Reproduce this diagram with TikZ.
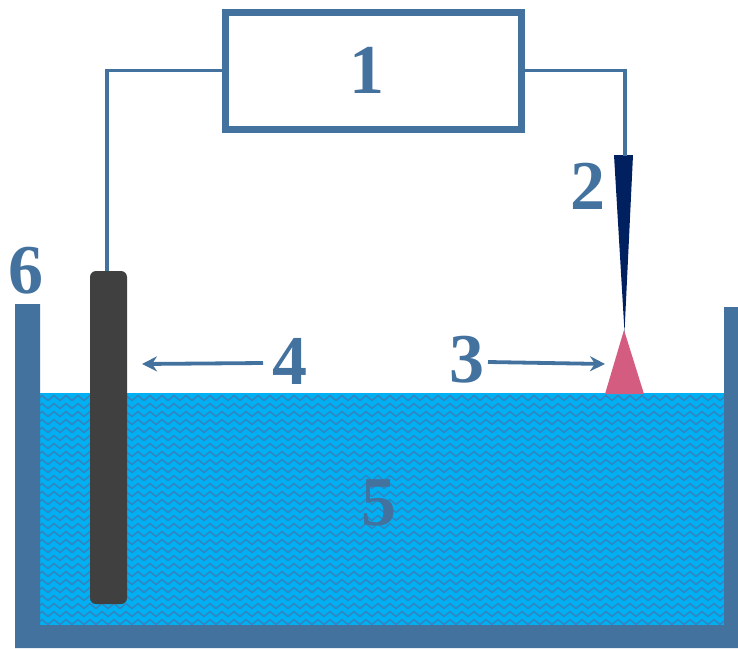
\documentclass[tikz,border=0pt]{standalone}
\usepackage{fontspec}
\setmainfont{Liberation Serif}
\usetikzlibrary{arrows.meta}
\definecolor{steel}{HTML}{44729F}
\definecolor{water}{HTML}{00B0F2}
\definecolor{wave}{HTML}{3583BE}
\definecolor{tipblue}{HTML}{002060}
\definecolor{pinkdrop}{HTML}{D35C80}
\definecolor{rod}{HTML}{404040}
\tikzset{
  num/.style={font=\bfseries\fontsize{70}{70}\selectfont,text=steel,inner sep=0pt},
  wire/.style={draw=steel,line width=3.6pt},
  pointer/.style={draw=steel,line width=3.8pt,-{Stealth[length=15pt,width=15pt]}},
  wall/.style={fill=steel,draw=none},
  wavelet/.style={draw=wave,line width=1.4pt,line join=miter}
}
\begin{document}
\begin{tikzpicture}[x=1pt,y=-1pt]
\useasboundingbox (0,0) rectangle (738,648);
% water
\fill[water] (40,393) rectangle (724,626);
\begin{scope}
\clip (40,393) rectangle (724,626);
\foreach \yy in {398,406,...,630}{
  \foreach \xx in {36,48,...,732}{
    \draw[wavelet] (\xx,\yy+2.5) -- (\xx+6,\yy-2.5) -- (\xx+12,\yy+2.5);
  }
}
\end{scope}
% tank
\fill[wall] (15,304) -- (40,304) -- (40,625) -- (724,625) -- (724,307) -- (738,307) -- (738,648) -- (15,648) -- cycle;
% drop and tip
\fill[pinkdrop] (624,330) -- (644,394) -- (605,394) -- cycle;
\fill[tipblue] (614,155) -- (633,155) -- (624.5,332) -- cycle;
% electrode
\node[fill=rod,rounded corners=6pt,minimum width=37pt,minimum height=333pt,inner sep=0pt,draw=none] (rodn) at (108.5,437.5) {};
\coordinate (rodtop) at (107,271);
\coordinate (tiptop) at (625,156);
% source box
\node[draw=steel,line width=7pt,minimum width=296pt,minimum height=117pt,inner sep=0pt] (box) at (373.5,70.5) {};
\node[num] (l1) at (367,70) {1};
\draw[wire] (box.west) -| (rodtop);
\draw[wire] (box.east) -| (tiptop);
% labels
\node[num] (l2) at (588,186) {2};
\node[num] (l3) at (467,360) {3};
\node[num] (l4) at (290,361) {4};
\node[num] (l5) at (379,503) {5};
\node[num] (l6) at (26,271) {6};
\coordinate (p4) at (142,364);
\coordinate (p3) at (605,364);
\draw[pointer] (263,363) -- (p4);
\draw[pointer] (488,362) -- (p3);
\end{tikzpicture}
\end{document}
